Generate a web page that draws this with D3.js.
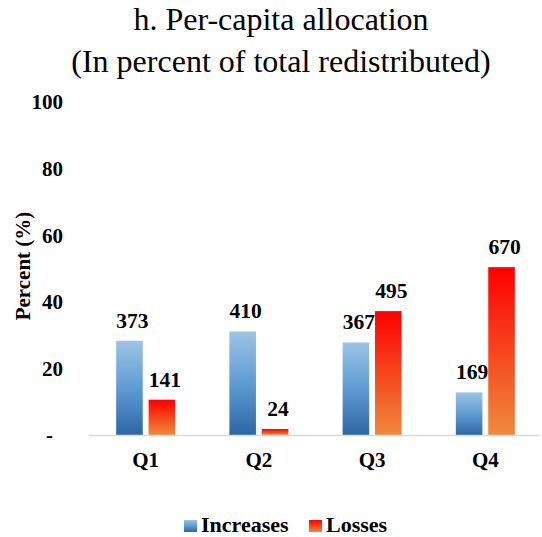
<!DOCTYPE html>
<html>
<head>
<meta charset="utf-8">
<script src="https://cdn.jsdelivr.net/npm/d3@7"></script>
<style>
  body { margin: 0; background: white; }
</style>
</head>
<body>
<div id="chart"></div>
<script>
// data
var quintiles = ["Q1", "Q2", "Q3", "Q4"];
var seriesNames = ["Increases", "Losses"];
var increasesPct = [28.3, 31.1, 27.8, 12.8];
var lossesPct = [10.6, 1.8, 37.2, 50.4];
var increasesLabel = ["373", "410", "367", "169"];
var lossesLabel = ["141", "24", "495", "670"];
var yTicks = [0, 20, 40, 60, 80, 100];

var width = 542, height = 537;
var serif = "'Liberation Serif', 'Times New Roman', Times, serif";

var svg = d3.select("#chart")
  .append("svg")
    .attr("width", width)
    .attr("height", height)
    .style("font-family", serif)
    .style("background", "white");

// gradients (per bar, like the excel fill)
var defs = svg.append("defs");
var gBlue = defs.append("linearGradient").attr("id", "gradBlue")
  .attr("x1", 0).attr("y1", 0).attr("x2", 0).attr("y2", 1);
gBlue.append("stop").attr("offset", "0%").attr("stop-color", "#9dc3e6");
gBlue.append("stop").attr("offset", "50%").attr("stop-color", "#5e9cd3");
gBlue.append("stop").attr("offset", "100%").attr("stop-color", "#2e67a3");
var gRed = defs.append("linearGradient").attr("id", "gradRed")
  .attr("x1", 0).attr("y1", 0).attr("x2", 0).attr("y2", 1);
gRed.append("stop").attr("offset", "0%").attr("stop-color", "#ff0000");
gRed.append("stop").attr("offset", "100%").attr("stop-color", "#ee8a3c");
var fills = { Increases: "url(#gradBlue)", Losses: "url(#gradRed)" };

// scales
var x0 = d3.scaleBand()
  .domain(quintiles)
  .range([89, 542])
  .paddingInner(0.479)
  .paddingOuter(0.24);

var x1 = d3.scaleBand()
  .domain(seriesNames)
  .range([0, x0.bandwidth()])
  .paddingInner(0.18);

var y = d3.scaleLinear()
  .domain([0, 100])
  .range([435, 102]);

var data = quintiles.map(function(q, i) {
  return {
    q: q,
    vals: [
      { key: "Increases", v: increasesPct[i], label: increasesLabel[i] },
      { key: "Losses", v: lossesPct[i], label: lossesLabel[i] }
    ]
  };
});

// title
var title = svg.append("text")
  .attr("text-anchor", "middle")
  .style("font-size", "32px")
  .style("fill", "#000");
title.append("tspan").attr("x", 281).attr("y", 30).text("h. Per-capita allocation");
title.append("tspan").attr("x", 281).attr("y", 72).text("(In percent of total redistributed)");

// y axis labels
svg.append("g")
  .selectAll("text")
  .data(yTicks)
  .enter()
  .append("text")
    .attr("x", function(d){ return d === 0 ? 53 : 63; })
    .attr("y", function(d){ return y(d); })
    .attr("dy", "0.35em")
    .attr("text-anchor", "end")
    .style("font-size", "21px")
    .style("font-weight", "bold")
    .text(function(d){ return d === 0 ? "-" : d; });

svg.append("text")
  .attr("transform", "translate(30,266) rotate(-90)")
  .attr("text-anchor", "middle")
  .style("font-size", "21px")
  .style("font-weight", "bold")
  .text("Percent (%)");

// bars
var groups = svg.append("g")
  .selectAll("g")
  .data(data)
  .enter()
  .append("g")
    .attr("transform", function(d){ return "translate(" + x0(d.q) + ",0)"; });

groups.selectAll("rect")
  .data(function(d){ return d.vals; })
  .enter()
  .append("rect")
    .attr("x", function(d){ return x1(d.key); })
    .attr("y", function(d){ return y(d.v); })
    .attr("width", x1.bandwidth())
    .attr("height", function(d){ return y(0) - y(d.v); })
    .style("fill", function(d){ return fills[d.key]; });

groups.selectAll("text")
  .data(function(d){ return d.vals; })
  .enter()
  .append("text")
    .attr("x", function(d){ return x1(d.key) + x1.bandwidth() / 2 + 3; })
    .attr("y", function(d){ return y(d.v) - 13; })
    .attr("text-anchor", "middle")
    .style("font-size", "21.5px")
    .style("font-weight", "bold")
    .text(function(d){ return d.label; });

// baseline
svg.append("line")
  .attr("x1", 89).attr("x2", 540)
  .attr("y1", y(0) + 0.5).attr("y2", y(0) + 0.5)
  .style("stroke", "#d9d9d9")
  .style("stroke-width", 1.5);

// category labels
svg.append("g")
  .selectAll("text")
  .data(quintiles)
  .enter()
  .append("text")
    .attr("x", function(d){ return x0(d) + x0.bandwidth() / 2; })
    .attr("y", 467)
    .attr("text-anchor", "middle")
    .style("font-size", "21px")
    .style("font-weight", "bold")
    .text(function(d){ return d; });

// legend
var legendX = [184, 309];
var legend = svg.append("g")
  .selectAll("g")
  .data(seriesNames)
  .enter()
  .append("g")
    .attr("transform", function(d, i){ return "translate(" + legendX[i] + ",520)"; });

legend.append("rect")
  .attr("width", 13)
  .attr("height", 12)
  .style("fill", function(d){ return fills[d]; });

legend.append("text")
  .attr("x", 17)
  .attr("y", 12)
  .style("font-size", "22px")
  .style("font-weight", "bold")
  .text(function(d){ return d; });
</script>
</body>
</html>
